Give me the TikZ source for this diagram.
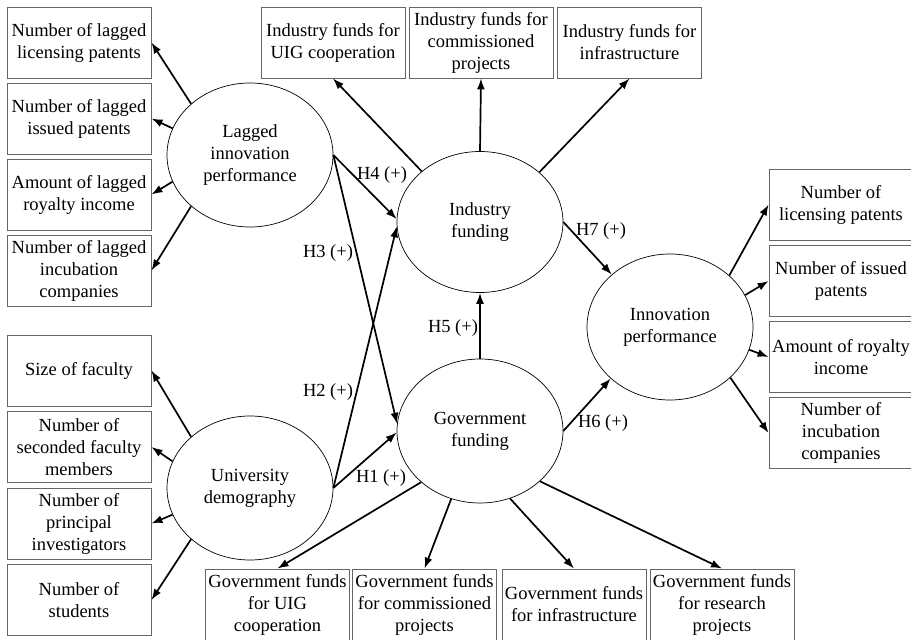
\documentclass[tikz,border=0pt]{standalone}
\usepackage{fontspec}
\setmainfont{Liberation Serif}
\usetikzlibrary{shapes.geometric,arrows.meta}
\definecolor{boxgray}{gray}{0.4}

\begin{document}
\begin{tikzpicture}[x=1pt,y=-1pt,
    every node/.style={font=\fontsize{18.5}{22}\selectfont},
    box/.style={draw=boxgray, line width=0.9pt, minimum width=144pt, minimum height=71pt, inner sep=0pt, align=center},
    latent/.style={draw, ellipse, line width=0.7pt, minimum width=166pt, minimum height=144pt, inner sep=0pt, align=center},
    arr/.style={-{Latex[length=11pt,width=8pt]}, line width=1.7pt},
    hyp/.style={inner sep=1pt}]
    \useasboundingbox (0,0) rectangle (911,640);

    % Latent constructs
    \node[latent] (lagperf) at (250,155) {Lagged\\innovation\\performance};
    \node[latent] (unidemo) at (250,488) {University\\demography};
    \node[latent, minimum height=141pt] (indfund) at (480,222) {Industry\\funding};
    \node[latent] (govfund) at (480,431) {Government\\funding};
    \node[latent, minimum height=146pt] (innoperf) at (670,327) {Innovation\\performance};

    % Indicators, left
    \node[box] (l1) at (79,42.5) {Number of lagged\\licensing patents};
    \node[box] (l2) at (79,118.5) {Number of lagged\\issued patents};
    \node[box] (l3) at (79,194.5) {Amount of lagged\\royalty income};
    \node[box] (l4) at (79,270.5) {Number of lagged\\incubation\\companies};
    \node[box] (u1) at (79,370.5) {Size of faculty};
    \node[box] (u2) at (79,447) {Number of\\seconded faculty\\members};
    \node[box] (u3) at (79,523.5) {Number of\\principal\\investigators};
    \node[box] (u4) at (79,600) {Number of\\students};

    % Indicators, top
    \node[box] (t1) at (333,42.5) {Industry funds for\\UIG cooperation};
    \node[box] (t2) at (481,42.5) {Industry funds for\\commissioned\\projects};
    \node[box] (t3) at (629.5,42.5) {Industry funds for\\infrastructure};

    % Indicators, right
    \node[box] (r1) at (841,204.5) {Number of\\licensing patents};
    \node[box] (r2) at (841,281) {Number of issued\\patents};
    \node[box] (r3) at (841,357) {Amount of royalty\\income};
    \node[box] (r4) at (841,433) {Number of\\incubation\\companies};

    % Indicators, bottom
    \node[box] (g1) at (277.5,604.5) {Government funds\\for UIG\\cooperation};
    \node[box] (g2) at (424.5,604.5) {Government funds\\for commissioned\\projects};
    \node[box] (g3) at (574,604.5) {Government funds\\for infrastructure};
    \node[box] (g4) at (722,604.5) {Government funds\\for research\\projects};

    % Measurement arrows
    \foreach \a/\b in {139/l1,161/l2,199/l3,221/l4}
        \draw[arr] (lagperf.\a) -- (\b.east);
    \foreach \a/\b in {139/u1,161/u2,199/u3,221/u4}
        \draw[arr] (unidemo.\a) -- (\b.east);
    \foreach \a/\b in {139/t1,90/t2,40/t3}
        \draw[arr] (indfund.\a) -- (\b.south);
    \foreach \a/\b in {41/r1,23/r2,344/r3,320/r4}
        \draw[arr] (innoperf.\a) -- (\b.west);
    \foreach \a/\b in {221/g1,247/g2,294/g3,320/g4}
        \draw[arr] (govfund.\a) -- (\b.north);

    % Hypotheses
    \draw[arr] (unidemo.east) -- (govfund.181);
    \draw[arr] (unidemo.east) -- (indfund.183);
    \draw[arr] (lagperf.east) -- (govfund.175);
    \draw[arr] (lagperf.east) -- (indfund.178);
    \draw[arr] (govfund.north) -- (indfund.south);
    \draw[arr] (govfund.east) -- (innoperf.221);
    \draw[arr] (indfund.east) -- (innoperf.138);

    \node[hyp] (h1) at (381,478) {H1 (+)};
    \node[hyp] (h2) at (328,392) {H2 (+)};
    \node[hyp] (h3) at (328,253) {H3 (+)};
    \node[hyp] (h4) at (382,175) {H4 (+)};
    \node[hyp] (h5) at (453,328) {H5 (+)};
    \node[hyp] (h6) at (603,423) {H6 (+)};
    \node[hyp] (h7) at (601,231) {H7 (+)};
\end{tikzpicture}
\end{document}
